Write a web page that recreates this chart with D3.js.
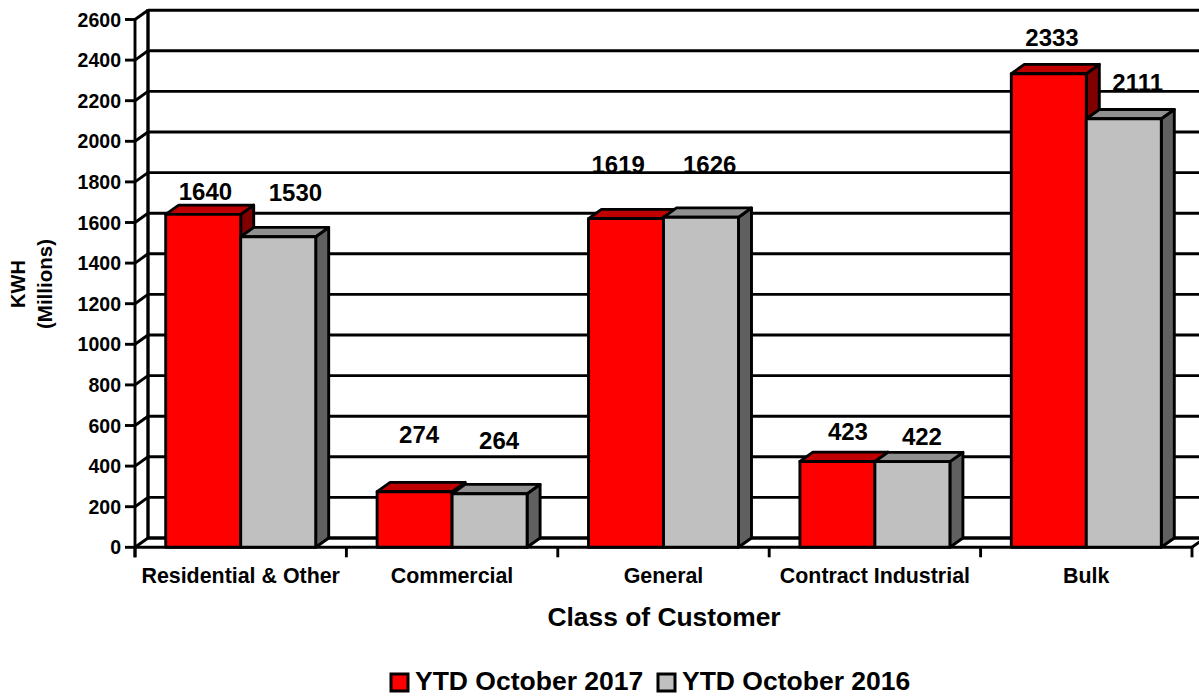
<!DOCTYPE html>
<html>
<head>
<meta charset="utf-8">
<script src="https://cdn.jsdelivr.net/npm/d3@7"></script>
<style>
  html, body { margin: 0; padding: 0; background: #fff; overflow: hidden; }
  text { font-family: "Liberation Sans", Arial, sans-serif; font-weight: bold; fill: #000; }
</style>
</head>
<body>
<div id="chart"></div>
<script>
const categories = ["Residential & Other", "Commercial", "General", "Contract Industrial", "Bulk"];
const ytd2017 = [1640, 274, 1619, 423, 2333];
const ytd2016 = [1530, 264, 1626, 422, 2111];
const yTicks = d3.range(0, 2601, 200);

// labels were dragged by hand in the original, so they sit at odd distances from the bars
const nudge2017 = [[-24.5, -14], [-15.5, -49], [-34.5, -46], [-9.5, -21], [-23.5, -28]];
const nudge2016 = [[-9.5, -35.5], [-10.5, -45], [-18, -44], [-10.5, -17], [-11.5, -28]];

const W = 1199, H = 696;
const x0 = 135, x1 = 1192, y0 = 547.3, yTop = 19.5;
const depthX = 13, depthY = 9.3;
const barW = 75;
const lw = 2.9;

const series = [
  {name: "YTD October 2017", values: ytd2017, nudge: nudge2017, front: "#ff0000", top: "#bf0000", side: "#800000"},
  {name: "YTD October 2016", values: ytd2016, nudge: nudge2016, front: "#c0c0c0", top: "#909090", side: "#606060"}
];

const xScale = d3.scaleBand().domain(categories).range([x0, x1]);
const yScale = d3.scaleLinear().domain([0, 2600]).range([y0, yTop]);

const svg = d3.select("#chart").append("svg")
  .attr("width", W)
  .attr("height", H)
  .style("display", "block");

// data labels go under the gridlines, the lines cut through them in the original
const labels = svg.append("g");
series.forEach((s, si) => {
  labels.selectAll(null)
    .data(categories)
    .enter()
    .append("text")
    .text((d, i) => s.values[i])
    .attr("x", (d, i) => xScale(d) + xScale.bandwidth() / 2 + (si - 1) * barW + barW / 2 + s.nudge[i][0])
    .attr("y", (d, i) => yScale(s.values[i]) + s.nudge[i][1])
    .attr("font-size", "24px");
});

// back wall gridlines
svg.append("g").selectAll("line")
  .data(yTicks)
  .enter()
  .append("line")
  .attr("x1", x0 + depthX)
  .attr("x2", W)
  .attr("y1", d => yScale(d) - depthY)
  .attr("y2", d => yScale(d) - depthY)
  .attr("stroke", "#000")
  .attr("stroke-width", d => d == 0 ? 3.6 : lw);

// back wall edge
svg.append("line")
  .attr("x1", x0 + depthX).attr("x2", x0 + depthX)
  .attr("y1", yScale(2600) - depthY - 1).attr("y2", y0 - depthY)
  .attr("stroke", "#000").attr("stroke-width", 3.4);

// y axis: front edge, ticks and the diagonals back to the wall
const axisG = svg.append("g").attr("stroke", "#000").attr("stroke-width", lw);
axisG.append("line").attr("x1", x0).attr("x2", x0).attr("y1", yTop).attr("y2", y0 + 10);
axisG.selectAll(".tick")
  .data(yTicks)
  .enter()
  .append("line")
  .attr("x1", x0 - 10).attr("x2", x0)
  .attr("y1", d => yScale(d)).attr("y2", d => yScale(d));
axisG.selectAll(".diag")
  .data(yTicks)
  .enter()
  .append("line")
  .attr("x1", x0).attr("x2", x0 + depthX)
  .attr("y1", d => yScale(d)).attr("y2", d => yScale(d) - depthY);

svg.append("g").selectAll("text")
  .data(yTicks)
  .enter()
  .append("text")
  .text(d => d)
  .attr("x", x0 - 14)
  .attr("y", d => yScale(d) + 7)
  .attr("text-anchor", "end")
  .attr("font-size", "19.5px");

// floor front edge + category ticks
const tickXs = categories.map(c => xScale(c)).concat([x1]);
axisG.append("line").attr("x1", x0).attr("x2", x1).attr("y1", y0).attr("y2", y0);
axisG.append("line").attr("x1", x1).attr("x2", x1 + depthX).attr("y1", y0).attr("y2", y0 - depthY);
axisG.selectAll(".xtick")
  .data(tickXs)
  .enter()
  .append("line")
  .attr("x1", d => d).attr("x2", d => d)
  .attr("y1", y0).attr("y2", y0 + 10);

// bars
function barPaths(g, s, si){
  const left = (d) => xScale(d) + xScale.bandwidth() / 2 + (si - 1) * barW;
  const top = (i) => yScale(s.values[i]);
  const draw = (fill, pts) => {
    g.selectAll(null)
      .data(categories)
      .enter()
      .append("path")
      .attr("d", (d, i) => d3.line()(pts(left(d), top(i))) + "Z")
      .attr("fill", fill)
      .attr("stroke", "#000")
      .attr("stroke-width", lw)
      .attr("stroke-linejoin", "round");
  };
  draw(s.side, (l, t) => [[l + barW, t], [l + barW + depthX, t - depthY], [l + barW + depthX, y0 - depthY], [l + barW, y0]]);
  draw(s.top, (l, t) => [[l, t], [l + depthX, t - depthY], [l + barW + depthX, t - depthY], [l + barW, t]]);
  draw(s.front, (l, t) => [[l, t], [l + barW, t], [l + barW, y0], [l, y0]]);
}
const barsG = svg.append("g");
series.forEach((s, si) => barPaths(barsG, s, si));

// category labels
svg.append("g").selectAll("text")
  .data(categories)
  .enter()
  .append("text")
  .text(d => d)
  .attr("x", d => xScale(d) + xScale.bandwidth() / 2)
  .attr("y", 583)
  .attr("text-anchor", "middle")
  .attr("font-size", "21.4px");

svg.append("text")
  .text("Class of Customer")
  .attr("x", 664).attr("y", 626)
  .attr("text-anchor", "middle")
  .attr("font-size", "26.4px");

// y title, two lines
svg.append("text")
  .text("KWH")
  .attr("transform", "translate(25,284) rotate(-90)")
  .attr("text-anchor", "middle")
  .attr("font-size", "20px");
svg.append("text")
  .text("(Millions)")
  .attr("transform", "translate(52,284) rotate(-90)")
  .attr("text-anchor", "middle")
  .attr("font-size", "20.5px");

// legend
const legendXs = [391, 658];
const legend = svg.append("g").selectAll("g")
  .data(series)
  .enter()
  .append("g")
  .attr("transform", (d, i) => `translate(${legendXs[i]},674)`);
legend.append("rect")
  .attr("width", 17).attr("height", 17)
  .attr("fill", d => d.front)
  .attr("stroke", "#000")
  .attr("stroke-width", 3);
legend.append("text")
  .text(d => d.name)
  .attr("x", 24).attr("y", 16.3)
  .attr("font-size", "26.5px");
</script>
</body>
</html>
